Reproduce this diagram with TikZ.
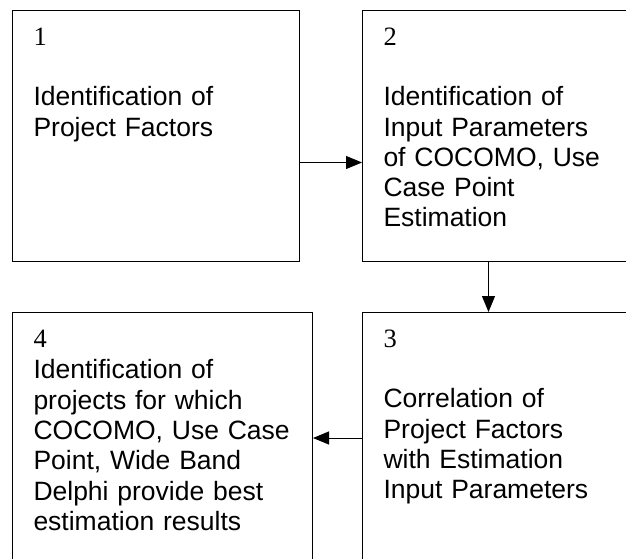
\documentclass[tikz,border=0pt]{standalone}
\usepackage{fontspec}
\setmainfont{Liberation Sans}
\newfontfamily\numfont{Liberation Serif}
\usetikzlibrary{positioning, arrows.meta}

\begin{document}
\begin{tikzpicture}[
    x=1pt, y=-1pt,
    font=\fontsize{26.5}{30.3}\selectfont,
    stepbox/.style={
        draw=black, line width=1pt, align=left,
        inner xsep=21pt, inner ysep=18pt,
        text height=17pt, text depth=198pt,
        text width=#1
    },
    stepnum/.style={font=\numfont\fontsize{25.5}{30.3}\selectfont},
    flowarrow/.style={
        -{Triangle[length=16pt, width=13pt]},
        line width=1pt, draw=black
    }
]
\useasboundingbox (0,0) rectangle (626,559);
\clip (0,0) rectangle (626,559);

% --- Step 1 ---
\node[stepbox=245pt, anchor=north west] (b1) at (12,10) {%
    {\numfont 1}\\[30pt]
    Identification of\\
    Project Factors
};

% --- Step 2 ---
\node[stepbox=245pt, right=62pt of b1] (b2) {%
    {\numfont 2}\\[30pt]
    Identification of\\
    Input Parameters\\
    of COCOMO, Use\\
    Case Point\\
    Estimation
};

% --- Step 4 ---
\node[stepbox=258pt, below=50pt of b1.south west, anchor=north west] (b4) {%
    {\numfont 4}\\[1pt]
    Identification of\\
    projects for which\\
    COCOMO, Use Case\\
    Point, Wide Band\\
    Delphi provide best\\
    estimation results
};

% --- Step 3 ---
\node[stepbox=245pt, right=49pt of b4] (b3) {%
    {\numfont 3}\\[30pt]
    Correlation of\\
    Project Factors\\
    with Estimation\\
    Input Parameters
};

% --- Flow arrows ---
\draw[flowarrow] ([yshift=-26.5pt]b1.east) -- ([yshift=-26.5pt]b2.west);
\draw[flowarrow] ([xshift=-17.5pt]b2.south) -- ([xshift=-17.5pt]b3.north);
\draw[flowarrow] (b3.west) -- (b4.east);

\end{tikzpicture}
\end{document}
